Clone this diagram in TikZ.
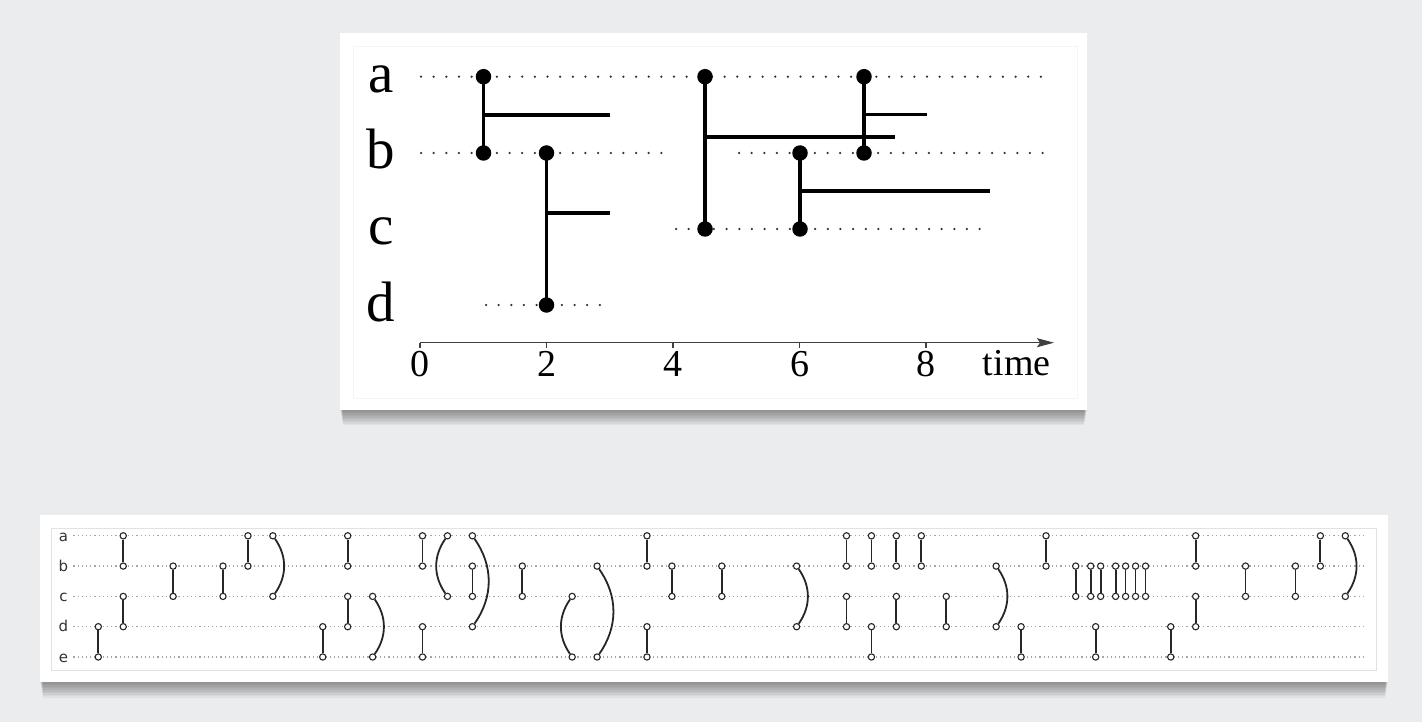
\documentclass[tikz,border=0pt]{standalone}
\usepackage{fontspec}
\setmainfont{Liberation Serif}
\newfontfamily\labfont{DejaVu Sans}
\usetikzlibrary{arrows.meta}
\definecolor{bgc}{RGB}{235,236,238}
\definecolor{framec}{RGB}{225,226,228}
\begin{document}
\begin{tikzpicture}[x=1pt,y=-1pt,
  tdots/.style={line width=2.5pt, line cap=round, dash pattern=on 0pt off 12.65pt, black!80},
  tdot/.style={circle, fill=black, inner sep=0pt, minimum size=15.5pt},
  tline/.style={line width=3.4pt, black},
  rowlab/.style={anchor=base, font=\fontsize{57}{62}\selectfont},
  ticklab/.style={anchor=base, font=\fontsize{38}{42}\selectfont},
  bdots/.style={gray!70, line width=1.3pt, dash pattern=on 1.3pt off 2.9pt},
  bdot/.style={circle, draw=black!85, fill=white, line width=1.1pt, inner sep=0pt, minimum size=6.3pt},
  bline/.style={line width=1.8pt, black!85},
  blab/.style={anchor=base, font=\labfont\fontsize{15}{17}\selectfont, text=black!80},
  st/.style={}, br/.style={bend left=35}, bl/.style={bend right=35}
]
\useasboundingbox (0,0) rectangle (1422,722);
\fill[bgc] (0,0) rectangle (1422,722);

% ---------- card shadows ----------
\foreach \i in {1,...,10}{
  \fill[black,opacity=0.042] (340+0.3*\i,33+\i) rectangle (1087-0.3*\i,410+1.5*\i);
  \fill[black,opacity=0.042] (40+0.3*\i,515+\i) rectangle (1388-0.3*\i,682+1.6*\i);
}
% ---------- cards ----------
\fill[white] (340,33) rectangle (1087,410);
\draw[black!4, line width=0.6pt] (353,46) rectangle (1077,398);
\fill[white] (40,515) rectangle (1388,682);
\draw[framec, line width=0.8pt] (51,528) rectangle (1376,670);

% ================= TOP PANEL =================
% row labels
\node[rowlab] (la) at (381,93) {a};
\node[rowlab] (lb) at (381,169) {b};
\node[rowlab] (lc) at (381,245) {c};
\node[rowlab] (ld) at (381,321) {d};

% dotted rows
\coordinate (da0) at (421,76.7);  \coordinate (da1) at (1050,76.7);
\coordinate (db0) at (421,153);   \coordinate (db1) at (664,153);
\coordinate (db2) at (739,153);   \coordinate (db3) at (1050,153);
\coordinate (dc0) at (676,229);   \coordinate (dc1) at (983,229);
\coordinate (dd0) at (486,305);   \coordinate (dd1) at (607,305);
\draw[tdots] (da0) -- (da1);
\draw[tdots] (db0) -- (db1);
\draw[tdots] (db2) -- (db3);
\draw[tdots] (dc0) -- (dc1);
\draw[tdots] (dd0) -- (dd1);

% contact dots
\node[tdot] (a1) at (483.5,76.7) {};  \node[tdot] (b1) at (483.5,153) {};
\node[tdot] (b2) at (546.5,153) {};   \node[tdot] (d2) at (546.5,305) {};
\node[tdot] (a4) at (705,76.7) {};    \node[tdot] (c4) at (705,229) {};
\node[tdot] (b6) at (800,153) {};     \node[tdot] (c6) at (800,229) {};
\node[tdot] (a7) at (864,76.7) {};    \node[tdot] (b7) at (864,153) {};

% vertical contacts
\draw[tline] (a1.center) -- (b1.center);
\draw[tline] (b2.center) -- (d2.center);
\draw[tline] (a4.center) -- (c4.center);
\draw[tline] (b6.center) -- (c6.center);
\draw[tline] (a7.center) -- (b7.center);

% horizontal branches
\coordinate (h1s) at (483.5,115);  \coordinate (h1e) at (610,115);
\coordinate (h2s) at (546.5,213);  \coordinate (h2e) at (610,213);
\coordinate (h4s) at (705,137);    \coordinate (h4e) at (895,137);
\coordinate (h6s) at (800,191);    \coordinate (h6e) at (990,191);
\coordinate (h7s) at (864,114.5);  \coordinate (h7e) at (927,114.5);
\draw[tline] (h1s) -- (h1e);
\draw[tline] (h2s) -- (h2e);
\draw[tline] (h4s) -- (h4e);
\draw[tline] (h6s) -- (h6e);
\draw[tline] (h7s) -- (h7e);

% time axis
\coordinate (ax0) at (420,342.7);
\coordinate (ax1) at (1054,342.7);
\draw[line width=1.3pt, black!75, -{Stealth[length=17pt,width=9pt,inset=3pt]}] (ax0) -- (ax1);
\foreach \v [count=\k from 0] in {0,2,4,6,8}{
  \draw[line width=1.3pt, black!75] ({420+63.25*\v},342.7) -- ({420+63.25*\v},347.5);
  \node[ticklab] (tk\k) at ({420+63.25*\v},376) {\v};
}
\node[ticklab, anchor=base east] (tlab) at (1054,375.5) {time};

% ================= BOTTOM PANEL =================
\foreach \r/\nm [count=\k from 0] in {0/a,1/b,2/c,3/d,4/e}{
  \coordinate (bs\k) at (73.3,{535.8+30.3*\r});
  \coordinate (be\k) at (1363.3,{535.8+30.3*\r});
  \draw[bdots] (bs\k) -- (be\k);
  \node[blab] (bl\k) at (63.5,{541+30.3*\r}) {\nm};
}

\foreach \t/\p/\q/\s [count=\n] in {
  0/3/4/st, 1/0/1/st, 1/2/3/st, 3/1/2/st, 5/1/2/st, 6/0/1/st, 7/0/2/br,
  9/3/4/st, 10/0/1/st, 10/2/3/st, 11/2/4/br, 13/0/1/st, 13/3/4/st,
  14/0/2/bl, 15/0/3/br, 15/1/2/st, 17/1/2/st, 19/2/4/bl, 20/1/4/br,
  22/0/1/st, 22/3/4/st, 23/1/2/st, 25/1/2/st, 28/1/3/br,
  30/0/1/st, 30/2/3/st, 31/0/1/st, 31/3/4/st, 32/0/1/st, 32/2/3/st,
  33/0/1/st, 34/2/3/st, 36/1/3/br, 37/3/4/st, 38/0/1/st,
  39.19/1/2/st, 39.79/1/2/st, 40.19/1/2/st, 40.79/1/2/st, 41.19/1/2/st,
  41.59/1/2/st, 41.99/1/2/st, 39.99/3/4/st,
  43/3/4/st, 44/0/1/st, 44/2/3/st, 46/1/2/st, 48/1/2/st, 49/0/1/st, 50/0/2/br}{
  \node[bdot] (u\n) at ({98.3+24.94*\t},{535.8+30.3*\p}) {};
  \node[bdot] (v\n) at ({98.3+24.94*\t},{535.8+30.3*\q}) {};
  \draw[bline] (u\n) to[\s] (v\n);
}
\end{tikzpicture}
\end{document}
